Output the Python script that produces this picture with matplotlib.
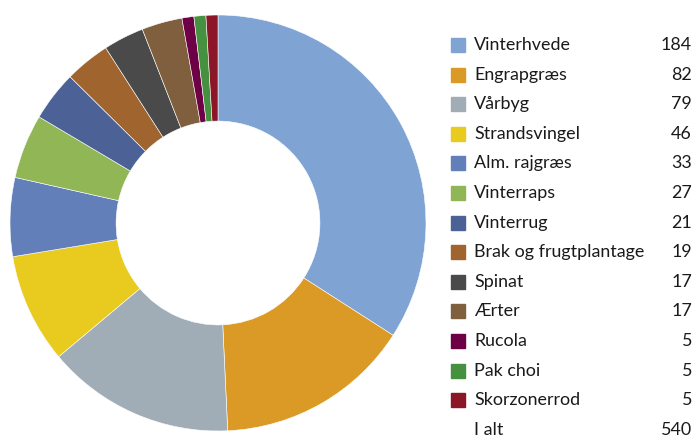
import matplotlib.pyplot as plt
from matplotlib.patches import Rectangle

plt.rcParams['font.family'] = ['Lato', 'DejaVu Sans']

crops = ['Vinterhvede', 'Engrapgræs', 'Vårbyg', 'Strandsvingel', 'Alm. rajgræs',
         'Vinterraps', 'Vinterrug', 'Brak og frugtplantage', 'Spinat', 'Ærter',
         'Rucola', 'Pak choi', 'Skorzonerrod']
counts = [184, 82, 79, 46, 33, 27, 21, 19, 17, 17, 5, 5, 5]
colors = ['#7FA3D3', '#DB9A25', '#A0ADB7', '#E9CA1F', '#627FBA', '#91B656',
          '#4C6296', '#A0642F', '#4A4A4A', '#7F5F3E', '#6E0045', '#469140', '#8A1627']
total_label = 'I alt'
total = 540

W, H = 695, 436
fig = plt.figure(figsize=(W / 100, H / 100), dpi=100, facecolor='white')

# donut, placed in pixel terms
ax = fig.add_axes([10 / W, 5 / H, 416 / W, 416 / H])
ax.pie(counts, colors=colors, startangle=90, counterclock=False, radius=1,
       wedgeprops=dict(width=0.51, edgecolor='white', linewidth=0.4))
ax.set_xlim(-1, 1)
ax.set_ylim(-1, 1)
ax.set_aspect('equal')
ax.axis('off')

# legend table
y0 = 45
step = 29.6
fs = 12.9
for i, (name, val, col) in enumerate(zip(crops, counts, colors)):
    yc = y0 + i * step
    fig.patches.append(Rectangle((451 / W, 1 - (yc + 7) / H), 14 / W, 14 / H,
                                 transform=fig.transFigure, color=col, zorder=3))
    fig.text(474 / W, 1 - yc / H, name, fontsize=fs, va='center', ha='left', color='#1a1a1a')
    fig.text(692 / W, 1 - yc / H, str(val), fontsize=fs, va='center', ha='right', color='#1a1a1a')

yc = y0 + len(crops) * step
fig.text(474 / W, 1 - yc / H, total_label, fontsize=fs, va='center', ha='left', color='#1a1a1a')
fig.text(692 / W, 1 - yc / H, str(total), fontsize=fs, va='center', ha='right', color='#1a1a1a')

fig.savefig('out.png', dpi=100, facecolor='white')
